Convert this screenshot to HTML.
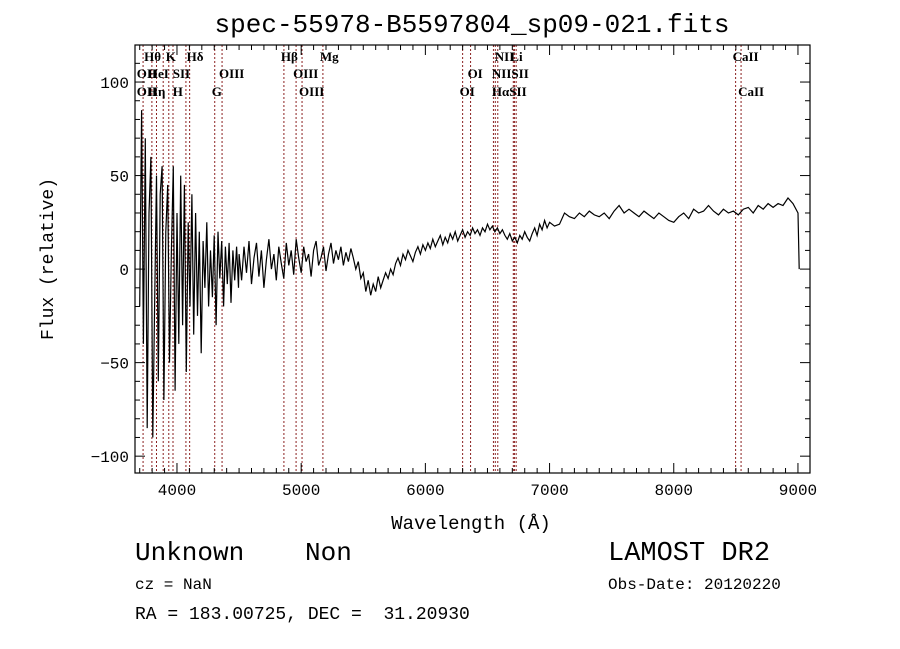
<!DOCTYPE html>
<html><head><meta charset="utf-8"><style>
body{margin:0;background:#fff}
svg{display:block}
.m{font-family:"Liberation Mono",monospace;fill:#000;white-space:pre}
.s{font-family:"Liberation Serif",serif;font-size:13px;font-weight:bold;fill:#000}
</style></head><body>
<svg id="chart" width="900" height="649">
<rect width="900" height="649" fill="#fff"/>
<text class="m" x="472" y="32" font-size="26" text-anchor="middle">spec-55978-B5597804_sp09-021.fits</text>
<g id="lines"></g>
<g id="axes"></g>
<path id="spec" fill="none" stroke="#000" stroke-width="1.2"/>
<text class="m" x="471" y="529" font-size="19" text-anchor="middle">Wavelength (Å)</text>
<text class="m" transform="translate(53,259) rotate(-90)" font-size="18" text-anchor="middle">Flux (relative)</text>
<text class="m" x="135" y="560" font-size="26">Unknown</text>
<text class="m" x="305" y="560" font-size="26">Non</text>
<text class="m" x="135" y="589" font-size="16">cz = NaN</text>
<text class="m" x="135" y="619" font-size="18" xml:space="preserve">RA = 183.00725, DEC =  31.20930</text>
<text class="m" x="608" y="560" font-size="27">LAMOST DR2</text>
<text class="m" x="608" y="589" font-size="16">Obs-Date: 20120220</text>
</svg>
<script>
const wave1Start=3700, wave1Step=15;
const flux1=[-20,85,-40,70,-85,30,60,-90,-20,50,-60,40,55,-70,20,45,-50,10,55,-65,30,-40,50,-30,45,-55,25,-20,40,-35,30,-25,20,-45,15,-10,25,-20,10,-15,18,-30,20,-5,15,-20,12,-8,14,-18,10,-6,12,-10];
const wave2Start=4500, wave2Step=20;
const flux2=[8,-6,12,-2,15,-8,6,14,-4,10,-10,5,16,0,8,-6,12,3,-5,14,2,10,-3,16,6,-2,12,4,8,-4,10,15,2,6,12,-1,8,14,3,10,5,12,2,9,4,11,
6,0,4,-5,-2,-12,-6,-14,-8,-12,-4,-10,-6,-2,-5,
0,-3,3,6,2,8,5,10,7,4,9,12,8,13,10,
14,11,16,12,15,18,13,17,14,19,16,20,15,18,21,17,20,18,22,19,
21,18,22,20,24,21,23,20,22,19,21,18,16,19,15,17,14,18,16,20,17,15,19,22,18,24,21,26,22,25];
const wave3Start=7040, wave3Step=40;
const flux3=[23,24,30,28,27,30,28,31,29,28,30,27,31,34,30,32,30,28,31,29,27,30,28,26,25,28,30,27,32,30,31,34,31,29,32,30,31,29,32,33,30,34,32,35,33,35,34,38,35,30];
const tailWave=[9010], tailFlux=[0];
const xTicks=[4000,5000,6000,7000,8000,9000];
const yTicks=[-100,-50,0,50,100];
const lineWaves=[3727,3798,3835,3889,3934,3968,4072,4102,4304,4363,4861,4959,5007,5175,6300,6364,6548,6563,6583,6708,6717,6731,8498,8542];
const labelText=["Hθ","K","Hδ","OII","HeI","SII","OIII","OII","Hη","H","G","Hβ","Mg","OIII","OIII","NII","Li","OI","NIISII","OI","HαSII","CaII","CaII"];
const labelWave=[3760,3934,4102,3700,3790,3990,4363,3700,3790,3990,4304,4861,5175,4959,5007,6583,6708,6364,6560,6300,6560,8498,8542];
const labelRow=[0,0,0,1,1,1,1,2,2,2,2,0,0,1,2,0,0,1,1,2,2,0,2];

const L=135,R=810,T=45,B=473,XMIN=3662,XMAX=9097,YMIN=-109,YMAX=119.8;
const X=w=>L+(w-XMIN)/(XMAX-XMIN)*(R-L);
const Y=f=>B-(f-YMIN)/(YMAX-YMIN)*(B-T);
const NS="http://www.w3.org/2000/svg";
function mk(t,a,p){const e=document.createElementNS(NS,t);for(const k in a)e.setAttribute(k,a[k]);p.appendChild(e);return e;}

let pts=[];
flux1.forEach((f,i)=>pts.push([wave1Start+i*wave1Step,f]));
flux2.forEach((f,i)=>pts.push([wave2Start+i*wave2Step,f]));
flux3.forEach((f,i)=>pts.push([wave3Start+i*wave3Step,f]));
tailWave.forEach((w,i)=>pts.push([w,tailFlux[i]]));
document.getElementById('spec').setAttribute('d',pts.map((p,i)=>(i?'L':'M')+X(p[0]).toFixed(1)+' '+Y(p[1]).toFixed(1)).join(' '));

const lg=document.getElementById('lines');
lineWaves.forEach(w=>{
 const l=mk('line',{x1:X(w),x2:X(w),y1:T,y2:B,stroke:'#8b2020','stroke-width':1,'stroke-dasharray':'2,2'},lg);
 
 
});
const rowY=[61,78,96];
labelText.forEach((t,i)=>{
 const e=mk('text',{x:X(labelWave[i])-3,y:rowY[labelRow[i]],class:'s'},lg);
 e.textContent=t;
 
 
});

const ax=document.getElementById('axes');
const fr=mk('rect',{x:L,y:T,width:R-L,height:B-T,fill:'none',stroke:'#000','stroke-width':1.2},ax);


for(let w=3700;w<=9000;w+=100){
 const len=(w%1000===0)?10:5;
 mk('line',{x1:X(w),x2:X(w),y1:B,y2:B-len,stroke:'#000'},ax);
 mk('line',{x1:X(w),x2:X(w),y1:T,y2:T+len,stroke:'#000'},ax);
}
for(let f=-100;f<=110;f+=10){
 const len=(f%50===0)?10:5;
 mk('line',{x1:L,x2:L+len,y1:Y(f),y2:Y(f),stroke:'#000'},ax);
 mk('line',{x1:R,x2:R-len,y1:Y(f),y2:Y(f),stroke:'#000'},ax);
}
xTicks.forEach(w=>{
 const t=mk('text',{x:X(w),y:B+22,class:'m','font-size':16,'text-anchor':'middle'},ax);
 t.textContent=w;
 
 
});
yTicks.forEach(f=>{
 const t=mk('text',{x:L-6,y:Y(f)+6,class:'m','font-size':16,'text-anchor':'end'},ax);
 t.textContent=f<0?'−'+(-f):f;
 
 
});
</script>
</body></html>
